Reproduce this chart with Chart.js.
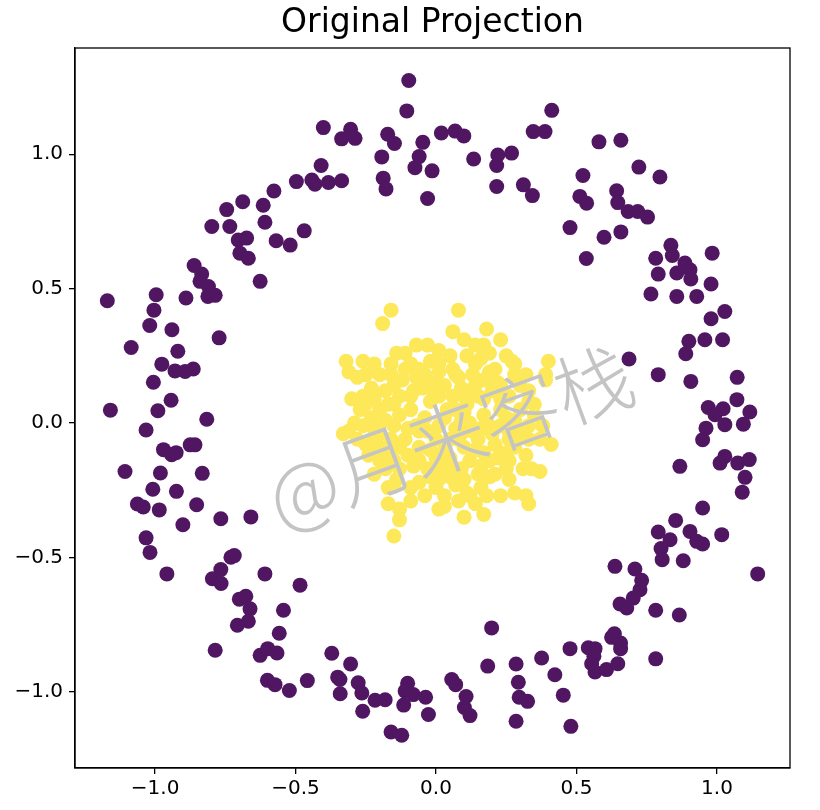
<!DOCTYPE html>
<html>
<head>
<meta charset="utf-8">
<script src="https://cdn.jsdelivr.net/npm/chart.js@4"></script>
<style>
  body { margin: 0; background: #fff; }
</style>
</head>
<body>
<canvas id="chart" width="820" height="810"></canvas>
<script>
// points, [x, y]
const outerRing = [
  [-0.097,1.274],[-0.104,1.161],[-0.401,1.099],[-0.304,1.093],[-0.336,1.057],[-0.288,1.059],[-0.172,1.074],[-0.148,1.040],
  [-0.193,0.990],[-0.047,1.044],[-0.060,0.991],[-0.075,0.950],[-0.014,0.938],[-0.188,0.911],[-0.178,0.871],[-0.030,0.835],
  [0.019,1.079],[0.068,1.086],[0.099,1.068],[0.134,0.982],[0.220,0.997],[0.269,1.004],[0.216,0.958],[0.216,0.880],
  [0.311,0.886],[0.343,0.846],[0.346,1.084],[0.388,1.084],[0.412,1.163],[-0.409,0.958],[-0.431,0.888],[-0.383,0.895],
  [-0.336,0.901],[-0.497,0.898],[-0.442,0.904],[-0.577,0.863],[-0.615,0.810],[-0.609,0.747],[-0.688,0.823],[-0.745,0.794],
  [-0.798,0.731],[-0.734,0.731],[-0.704,0.681],[-0.674,0.688],[-0.698,0.632],[-0.668,0.613],[-0.569,0.678],[-0.519,0.662],
  [-0.469,0.715],[-0.861,0.586],[-0.834,0.554],[-0.840,0.527],[-0.810,0.508],[-0.626,0.527],[-1.170,0.455],[-0.996,0.477],
  [-1.004,0.420],[-0.890,0.465],[-0.812,0.471],[-0.786,0.475],[-1.019,0.363],[-0.940,0.347],[-0.772,0.317],[-1.085,0.281],
  [-0.919,0.267],[-0.976,0.219],[-0.929,0.194],[-0.893,0.192],[-0.864,0.201],[-1.006,0.152],[-0.943,0.085],[-1.159,0.048],
  [-0.990,0.046],[-0.816,0.014],[-1.032,-0.026],[-0.970,-0.099],[-0.941,-0.118],[-0.925,-0.110],[-0.875,-0.081],[-0.858,-0.081],
  [-1.107,-0.180],[-0.981,-0.186],[-0.832,-0.187],[-1.008,-0.246],[-0.924,-0.254],[-1.063,-0.301],[-1.042,-0.312],[-0.985,-0.323],
  [-0.852,-0.304],[-0.901,-0.378],[-0.766,-0.356],[-0.659,-0.349],[-1.032,-0.427],[-1.018,-0.481],[-0.958,-0.561],[-0.730,-0.499],
  [-0.718,-0.493],[-0.766,-0.545],[-0.796,-0.579],[-0.765,-0.597],[-0.609,-0.561],[-0.484,-0.603],[-0.700,-0.655],[-0.677,-0.644],
  [-0.662,-0.691],[-0.668,-0.737],[-0.707,-0.752],[-0.543,-0.696],[-0.558,-0.782],[-0.786,-0.845],[-0.626,-0.864],[-0.599,-0.839],
  [-0.566,-0.855],[-0.600,-0.957],[-0.573,-0.973],[-0.522,-0.995],[-0.458,-0.958],[0.198,-0.762],[-0.371,-0.856],[-0.304,-0.896],
  [-0.350,-0.945],[-0.342,-0.954],[-0.341,-1.007],[-0.277,-0.966],[-0.264,-1.004],[-0.217,-1.031],[-0.181,-1.029],[-0.261,-1.072],
  [-0.101,-0.968],[-0.110,-0.997],[-0.081,-1.010],[-0.115,-1.049],[-0.037,-1.020],[-0.027,-1.084],[-0.160,-1.149],[-0.122,-1.161],
  [0.056,-0.954],[0.070,-0.973],[0.107,-1.017],[0.101,-1.058],[0.121,-1.088],[0.184,-0.904],[0.285,-0.896],[0.293,-0.964],
  [0.296,-1.020],[0.326,-1.035],[0.285,-1.109],[0.376,-0.874],[0.423,-0.936],[0.791,-0.405],[0.833,-0.434],[0.801,-0.467],
  [0.805,-0.508],[0.904,-0.403],[0.928,-0.440],[0.949,-0.450],[1.017,-0.415],[0.880,-0.512],[1.145,-0.561],[0.637,-0.533],
  [0.708,-0.543],[0.732,-0.585],[0.726,-0.620],[0.702,-0.651],[0.655,-0.673],[0.679,-0.688],[0.782,-0.696],[0.866,-0.714],
  [0.635,-0.784],[0.625,-0.797],[0.657,-0.818],[0.657,-0.839],[0.477,-0.839],[0.542,-0.836],[0.566,-0.839],[0.562,-0.867],
  [0.554,-0.895],[0.566,-0.926],[0.607,-0.917],[0.647,-0.895],[0.782,-0.877],[0.453,-1.012],[0.480,-1.128],[0.765,0.480],
  [0.857,0.471],[0.928,0.471],[0.979,0.517],[0.979,0.388],[1.028,0.415],[0.900,0.304],[0.889,0.258],[0.957,0.310],
  [1.020,0.310],[0.687,0.238],[0.791,0.180],[0.907,0.155],[1.072,0.170],[1.071,0.087],[0.969,0.058],[0.993,0.031],
  [1.022,0.053],[1.028,-0.006],[1.117,0.041],[1.094,-0.004],[0.961,-0.019],[0.949,-0.062],[1.028,-0.124],[1.011,-0.149],
  [1.074,-0.149],[1.115,-0.136],[1.100,-0.202],[1.090,-0.257],[0.868,-0.161],[0.949,-0.316],[0.853,-0.362],[0.580,1.046],
  [0.658,1.052],[0.722,0.952],[0.797,0.915],[0.523,0.921],[0.512,0.843],[0.536,0.818],[0.643,0.864],[0.647,0.820],
  [0.684,0.787],[0.718,0.787],[0.753,0.766],[0.477,0.727],[0.598,0.691],[0.658,0.711],[0.535,0.612],[0.836,0.661],
  [0.841,0.623],[0.886,0.595],[0.904,0.570],[0.857,0.558],[0.907,0.536],[0.782,0.613],[0.791,0.554],[0.983,0.632]
];

const innerBlob = [
  [-0.16,0.42],[-0.19,0.37],[-0.32,0.23],[-0.03,0.29],[-0.14,0.26],[-0.11,0.26],[-0.26,0.23],[-0.22,0.22],
  [-0.16,0.22],[-0.09,0.22],[-0.06,0.20],[-0.31,0.19],[-0.28,0.17],[-0.25,0.18],[-0.20,0.18],[-0.16,0.18],
  [-0.26,0.10],[-0.22,0.11],[-0.18,0.12],[-0.13,0.10],[-0.08,0.12],[-0.05,0.13],[0.00,0.15],[-0.29,0.00],
  [-0.31,-0.03],[-0.25,0.07],[-0.20,0.05],[-0.15,0.07],[-0.09,0.05],[-0.22,-0.02],[-0.15,-0.01],[-0.10,-0.02],
  [-0.21,-0.08],[-0.15,-0.09],[-0.10,-0.12],[-0.06,-0.09],[-0.22,-0.19],[-0.18,-0.17],[-0.13,-0.17],[-0.08,-0.16],
  [-0.03,-0.17],[0.02,-0.17],[-0.17,-0.24],[-0.15,-0.235],[-0.06,-0.22],[0.00,-0.24],[-0.09,-0.29],[-0.17,-0.30],
  [-0.13,-0.32],[-0.13,-0.36],[0.01,-0.32],[-0.15,-0.42],[-0.25,-0.08],[-0.33,-0.04],[0.08,0.42],[0.06,0.34],
  [0.10,0.31],[0.18,0.35],[0.17,0.29],[0.19,0.26],[0.05,0.25],[0.11,0.25],[0.16,0.24],[0.25,0.25],
  [0.27,0.23],[0.40,0.23],[0.39,0.18],[0.39,0.16],[0.28,0.18],[0.08,0.17],[0.13,0.18],[0.19,0.19],
  [0.22,0.15],[0.06,0.10],[0.10,0.10],[0.15,0.10],[0.20,0.12],[0.10,0.04],[0.17,0.03],[0.33,0.08],
  [0.38,-0.01],[0.41,-0.08],[0.13,-0.03],[0.20,-0.04],[0.26,-0.03],[0.10,-0.09],[0.17,-0.11],[0.25,-0.11],
  [0.28,-0.09],[0.34,-0.17],[0.37,-0.18],[0.07,-0.17],[0.15,-0.19],[0.21,-0.19],[0.26,-0.21],[0.07,-0.23],
  [0.11,-0.26],[0.18,-0.27],[0.32,-0.27],[0.33,-0.30],[0.10,-0.35],[0.17,-0.34],[0.03,-0.31],[-0.02,0.23],
  [0.01,0.19],[0.06,0.20],[0.14,0.22],[0.21,0.20],[0.30,0.14],[0.33,0.12],[0.26,0.10],[0.30,0.05],
  [0.23,0.05],[0.01,0.10],[-0.02,0.08],[0.04,0.05],[-0.04,0.02],[0.01,-0.01],[0.07,-0.02],[-0.06,-0.03],
  [0.00,-0.06],[0.05,-0.06],[0.15,-0.06],[0.21,-0.08],[0.30,-0.03],[0.33,-0.06],[0.32,-0.12],[0.26,-0.14],
  [0.19,-0.14],[0.12,-0.14],[0.05,-0.13],[0.00,-0.13],[-0.06,-0.14],[-0.11,-0.06],[-0.16,-0.06],[-0.20,-0.14],
  [-0.14,-0.21],[-0.09,-0.24],[0.05,-0.20],[0.10,-0.21],[-0.02,-0.20],[0.03,-0.27],[0.08,-0.29],[0.14,-0.30],
  [0.23,-0.27],[0.28,-0.26],[-0.27,0.05],[-0.23,0.02],[-0.18,0.01],[-0.28,-0.06],[-0.24,-0.12],[-0.20,-0.04],
  [0.23,-0.01],[0.28,0.01],[0.35,0.03],[0.09,0.01],[0.12,0.00],[0.16,-0.02],[0.03,0.14],[0.09,0.13],
  [0.14,0.14],[-0.12,0.16],[-0.07,0.17],[-0.02,0.13],[0.23,0.31],[0.14,0.29],[0.01,0.27],[-0.07,0.29],
  [-0.11,0.20],[-0.23,0.13],[-0.30,0.09],[-0.20,-0.09],[-0.15,-0.14],[0.17,0.09],[0.23,0.14],[0.08,-0.06],
  [0.26,-0.06],[0.11,0.07],[0.03,-0.10],[0.16,-0.24],[0.07,0.05],
  [-0.22,0.09],[-0.17,0.07],[-0.13,0.03],[-0.07,-0.01],[-0.03,-0.03],[0.03,0.02],[0.09,-0.04],[0.14,-0.10],
  [0.19,-0.01],[0.25,0.02],[0.29,-0.06],[0.33,-0.01],[0.22,-0.13],[0.16,-0.16],[0.09,-0.17],[0.03,-0.16],
  [-0.02,-0.10],[-0.07,-0.12],[-0.13,-0.09],[-0.17,-0.12],[-0.23,-0.06],[-0.26,-0.01],[-0.15,0.14],[-0.09,0.10],
  [-0.04,0.18],[0.01,0.22],[0.07,0.18],[0.12,0.12],[0.17,0.16],[0.23,0.09],[0.28,0.22],[0.32,0.18],
  [0.35,0.07],[0.37,-0.06],[0.31,-0.17],[0.25,-0.17],[0.19,-0.20],[0.12,-0.27],[0.01,-0.21],[-0.04,-0.27]
];

const xTicks = [-1.0, -0.5, 0.0, 0.5, 1.0];
const yTicks = [-1.0, -0.5, 0.0, 0.5, 1.0];
const titleText = 'Original Projection';
const watermark = '@月来客栈';

const fmt = v => v.toFixed(1).replace('-', '\u2212');

const frame = {
  id: 'frame',
  afterDraw(chart) {
    const a = chart.chartArea;
    const ctx = chart.ctx;
    ctx.save();
    ctx.strokeStyle = '#000';
    ctx.lineWidth = 1.3;
    ctx.strokeRect(a.left, a.top, a.right - a.left, a.bottom - a.top);
    ctx.restore();
  }
};

const stamp = {
  id: 'stamp',
  afterDatasetsDraw(chart) {
    const ctx = chart.ctx;
    const px = chart.scales.x.getPixelForValue(0.05);
    const py = chart.scales.y.getPixelForValue(-0.05);
    ctx.save();
    ctx.translate(px, py);
    ctx.rotate(-20 * Math.PI / 180);
    ctx.font = '300 78px "Noto Sans CJK SC"';
    ctx.fillStyle = '#c4c4c4';
    ctx.textAlign = 'center';
    ctx.textBaseline = 'middle';
    ctx.fillText(watermark, 0, 0);
    ctx.restore();
  }
};

const tickFont = { family: '"DejaVu Sans"', size: 20 };

new Chart(document.getElementById('chart'), {
  type: 'scatter',
  data: {
    datasets: [
      {
        data: outerRing.map(p => ({ x: p[0], y: p[1] })),
        backgroundColor: 'rgb(80,22,98)',
        borderWidth: 0,
        pointRadius: 7.5,
        pointHoverRadius: 7.5
      },
      {
        data: innerBlob.map(p => ({ x: p[0], y: p[1] })),
        backgroundColor: 'rgb(252,232,88)',
        borderWidth: 0,
        pointRadius: 7.5,
        pointHoverRadius: 7.5
      }
    ]
  },
  options: {
    responsive: false,
    animation: false,
    layout: { padding: { left: 0, right: 30, top: 0, bottom: 0 } },
    plugins: {
      legend: { display: false },
      tooltip: { enabled: false },
      title: {
        display: true,
        text: titleText,
        fullSize: false,
        color: '#000',
        font: { family: '"DejaVu Sans"', size: 33, weight: 'normal' },
        padding: { top: 4, bottom: 4.4 }
      }
    },
    scales: {
      x: {
        type: 'linear',
        min: -1.285,
        max: 1.260,
        afterBuildTicks: s => { s.ticks = xTicks.map(v => ({ value: v })); },
        afterFit: s => { s.height = 42; },
        grid: { drawOnChartArea: false, drawTicks: true, tickLength: 6, color: '#000', lineWidth: 1.3 },
        border: { display: true, color: '#000', width: 1.3 },
        ticks: { color: '#000', font: tickFont, padding: 3, maxRotation: 0, callback: v => fmt(v) }
      },
      y: {
        type: 'linear',
        min: -1.283,
        max: 1.395,
        afterBuildTicks: s => { s.ticks = yTicks.map(v => ({ value: v })); },
        afterFit: s => { s.width = 75; },
        grid: { drawOnChartArea: false, drawTicks: true, tickLength: 6, color: '#000', lineWidth: 1.3 },
        border: { display: true, color: '#000', width: 1.3 },
        ticks: { color: '#000', font: tickFont, padding: 6, callback: v => fmt(v) }
      }
    }
  },
  plugins: [frame, stamp]
});
</script>
</body>
</html>
